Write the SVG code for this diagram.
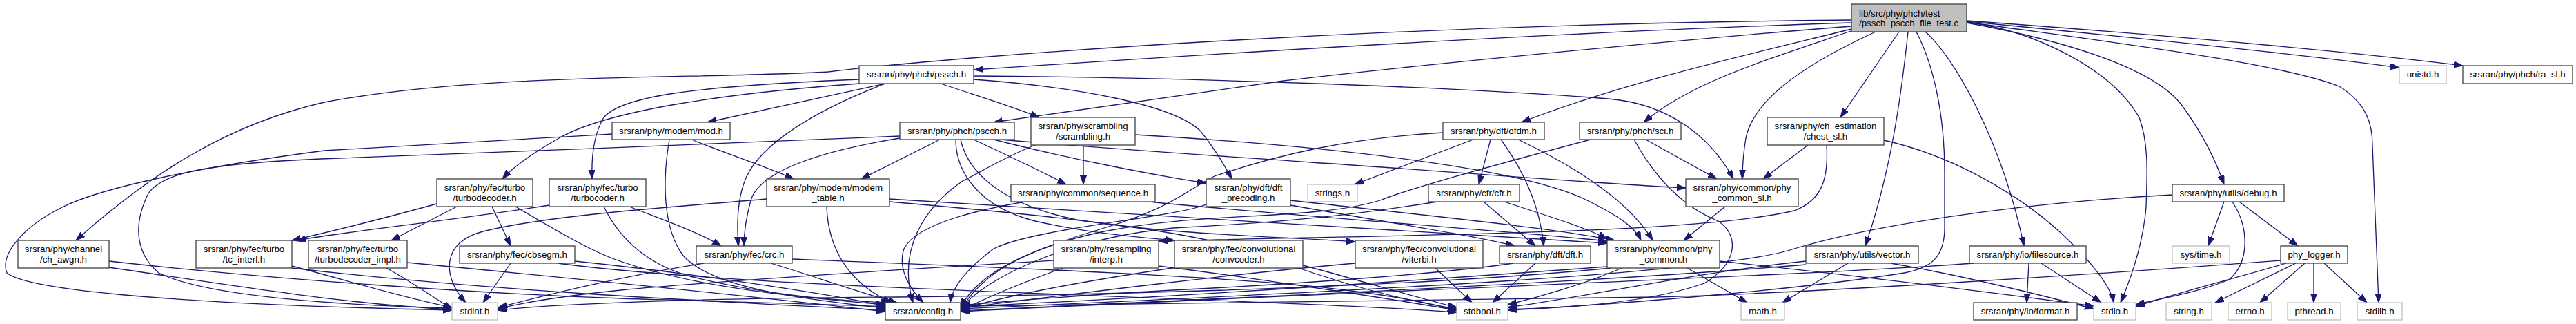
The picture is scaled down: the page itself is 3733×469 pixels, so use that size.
<svg xmlns="http://www.w3.org/2000/svg" width="3733" height="469" viewBox="0 0 3733 469">
<style>
.n rect{fill:#fff;stroke:#404040;stroke-width:1.3}
.x rect{fill:#fff;stroke:#bfbfbf;stroke-width:1.3}
.r rect{fill:#bfbfbf;stroke:#404040;stroke-width:1.3}
text{font-family:"Liberation Sans",Arial,sans-serif;font-size:13.3px;fill:#000;text-anchor:middle}
.r text{text-anchor:start}
#edges path{fill:none;stroke:#191970;stroke-width:1.3;marker-end:url(#ah)}
</style>
<defs>
<marker id="ah" markerUnits="userSpaceOnUse" markerWidth="14" markerHeight="10" refX="13" refY="4.5" orient="auto">
<path d="M0,0 L13,4.5 L0,9 z" fill="#191970" stroke="#191970" stroke-width="1"/>
</marker>
</defs>
<rect width="3733" height="469" fill="#fff"/>
<g id="edges">
<!-- root -->
<path d="M2683,33 C2300,45 1800,75 1412,101"/>
<path d="M2683,29 C2000,35 1400,80 1200,104 C1000,115 700,105 470,148 C330,180 220,250 110,348"/>
<path d="M2683,38 C2400,60 2000,100 1860,117 C1700,140 1550,160 1440,177"/>
<path d="M2683,42 C2550,75 2350,120 2205,177"/>
<path d="M2685,44 C2550,90 2450,120 2382,177"/>
<path d="M2718,46 C2600,100 2540,150 2530,200 C2525,230 2525,245 2525,259"/>
<path d="M2752,46 L2667,170"/>
<path d="M2765,46 C2755,140 2740,250 2703,356"/>
<path d="M2790,46 C2830,80 2900,200 2933,356"/>
<path d="M2777,46 C2800,90 2818,160 2818,250 L2818,330 C2818,370 2800,388 2760,395 C2600,420 2350,440 2186,449"/>
<path d="M2850,32 C2950,45 3060,100 3100,170 C3115,210 3111,260 3110,300 C3105,360 3085,410 3073,438"/>
<path d="M2850,33 C3000,60 3120,100 3160,150 C3190,190 3210,230 3223,267"/>
<path d="M2850,31 C3100,55 3350,80 3477,98"/>
<path d="M2850,30 C3200,55 3450,80 3569,95"/>
<path d="M2850,32 C3050,60 3300,90 3390,125 C3430,150 3438,180 3438,210 L3447,438"/>
<!-- pssch -->
<path d="M1283,121 L1025,177"/>
<path d="M1283,121 C1180,160 1100,210 1080,260 C1068,290 1068,330 1070,356"/>
<path d="M1246,121 C1050,135 880,160 810,200 C775,220 745,240 728,259"/>
<path d="M1245,115 C1000,125 900,140 875,170 C860,195 857,230 858,259"/>
<path d="M1363,121 C1420,140 1470,155 1506,170"/>
<path d="M1411,115 C1550,125 1700,150 1740,190 C1760,215 1775,240 1785,259"/>
<path d="M1411,110 C1700,112 2100,125 2330,143 C2420,150 2480,200 2512,259"/>
<!-- pscch -->
<path d="M1304,200 C1180,220 1100,250 1088,290 C1080,320 1078,340 1078,356"/>
<path d="M1362,202 L1248,259"/>
<path d="M1411,202 C1460,225 1510,248 1545,267"/>
<path d="M1440,202 C1550,230 1680,255 1748,265"/>
<path d="M1450,202 C1600,215 1800,228 1900,235 C2100,248 2300,265 2443,272"/>
<path d="M1385,202 C1385,250 1420,300 1500,320 C1590,340 1670,345 1702,348"/>
<path d="M1392,202 C1405,260 1470,300 1560,318 C1700,340 1850,342 1964,350"/>
<path d="M1304,197 C1100,205 700,222 465,230 C300,237 235,250 215,280 C190,330 200,370 230,395 C300,430 500,442 655,446"/>
<!-- mod -->
<path d="M1002,202 C1060,225 1120,245 1150,259"/>
<path d="M970,202 C960,260 960,330 990,370 C1030,415 1150,432 1283,446"/>
<path d="M887,194 C700,205 500,215 470,218 C300,240 150,270 90,300 C30,330 0,370 10,395 C40,420 250,440 655,449"/>
<!-- modem table -->
<path d="M1198,299 C1200,360 1230,410 1292,438"/>
<path d="M1111,288 C1000,298 800,310 700,335 C640,350 640,400 675,438"/>
<path d="M1289,288 C1600,310 2000,330 2329,352"/>
<path d="M1289,292 C1500,310 1700,330 1800,360 C1900,395 2000,430 2111,447"/>
<!-- crc -->
<path d="M1117,381 C1180,400 1250,425 1300,438"/>
<path d="M1020,381 C900,400 800,425 722,445"/>
<path d="M1148,375 C1400,385 1800,400 1950,420 C2030,430 2080,440 2111,450"/>
<!-- cbsegm -->
<path d="M740,381 L700,438"/>
<path d="M833,378 C1000,395 1200,425 1283,443"/>
<path d="M808,381 C1100,420 1800,430 2111,452"/>
<!-- turbodecoder -->
<path d="M662,299 L567,348"/>
<path d="M713,299 L740,356"/>
<path d="M633,295 C560,315 480,335 423,348"/>
<path d="M747,299 C800,330 850,360 890,375 C1000,415 1150,430 1283,441"/>
<!-- turbocoder -->
<path d="M796,297 C650,320 500,335 430,348"/>
<path d="M912,299 C960,318 1010,335 1045,356"/>
<path d="M875,299 C895,340 930,380 1000,400 C1100,425 1200,435 1290,438"/>
<!-- tc_interl -->
<path d="M423,385 C500,405 580,430 655,445"/>
<path d="M423,388 C700,420 1000,435 1283,449"/>
<!-- turbodecoder_impl -->
<path d="M560,388 C600,410 630,432 655,447"/>
<path d="M590,380 C800,400 1100,430 1283,451"/>
<!-- awgn -->
<path d="M158,387 C350,415 500,440 655,448"/>
<path d="M158,378 C400,405 700,425 900,432 C1050,437 1200,440 1283,444"/>
<!-- scrambling -->
<path d="M1570,210 L1570,267"/>
<path d="M1500,210 C1450,230 1420,250 1395,262 C1340,300 1300,360 1323,438"/>
<path d="M1645,195 C1900,210 2200,240 2300,290 C2350,315 2370,330 2378,348"/>
<!-- sequence -->
<path d="M1485,292 C1440,300 1330,320 1310,360 C1300,390 1320,420 1338,438"/>
<path d="M1665,292 C1900,315 2200,335 2329,349"/>
<!-- dft_precoding -->
<path d="M1870,297 C2000,320 2130,340 2195,356"/>
<path d="M1870,290 C2050,310 2250,330 2340,348"/>
<path d="M1748,296 C1700,315 1500,330 1440,360 C1400,390 1380,415 1377,438"/>
<!-- ofdm -->
<path d="M2135,202 L1963,267"/>
<path d="M2160,202 L2143,267"/>
<path d="M2175,202 C2210,250 2232,300 2237,356"/>
<path d="M2200,202 C2280,240 2360,290 2395,348"/>
<path d="M2091,192 C1950,200 1850,225 1760,255 C1720,275 1700,300 1600,330 C1500,360 1420,390 1392,445"/>
<!-- sci -->
<path d="M2385,202 L2488,259"/>
<path d="M2305,202 C2200,230 2050,270 2000,290 C1900,320 1750,305 1600,335 C1480,360 1420,400 1392,449"/>
<path d="M2368,202 C2400,260 2440,300 2490,320 C2520,340 2520,380 2470,410 C2400,435 2300,445 2185,448"/>
<!-- chest -->
<path d="M2620,210 L2555,259"/>
<path d="M2647,210 C2650,260 2640,290 2600,305 C2450,340 2000,340 1679,349"/>
<path d="M2730,203 C2850,230 2950,300 3000,350 C3040,390 3060,420 3063,438"/>
<!-- phy_common_sl -->
<path d="M2500,299 L2440,348"/>
<!-- cfr -->
<path d="M2150,292 L2225,356"/>
<path d="M2180,292 C2250,315 2300,330 2329,346"/>
<path d="M2083,292 C2000,305 1900,320 1700,330 C1550,345 1430,400 1392,447"/>
<!-- dft -->
<path d="M2225,381 L2163,438"/>
<path d="M2193,381 C2100,395 1900,410 1700,420 C1550,428 1450,437 1392,442"/>
<!-- viterbi -->
<path d="M2080,388 L2133,438"/>
<path d="M1964,381 C1800,395 1600,420 1392,446"/>
<!-- convcoder -->
<path d="M1705,387 C1550,410 1450,430 1392,448"/>
<path d="M1888,384 C1950,400 2050,430 2111,445"/>
<!-- interp -->
<path d="M1540,388 C1480,410 1430,430 1392,450"/>
<path d="M1527,377 C1300,390 1000,410 900,420 C800,430 750,440 722,447"/>
<path d="M1679,385 C1800,400 2000,430 2111,449"/>
<!-- phy_common -->
<path d="M2445,388 L2532,438"/>
<path d="M2492,378 C2700,400 2900,425 3034,443"/>
<path d="M2350,388 C2300,410 2230,430 2185,441"/>
<path d="M2329,386 C2000,410 1700,430 1392,444"/>
<path d="M2335,388 C2000,420 1500,428 1300,430 C1000,432 800,440 722,449"/>
<!-- vector -->
<path d="M2678,381 L2583,438"/>
<path d="M2740,381 C2850,400 2950,425 3034,447"/>
<path d="M2617,378 C2450,395 2300,430 2185,445"/>
<path d="M2617,383 C2300,410 1800,430 1392,450"/>
<!-- filesource -->
<path d="M2940,381 L2937,438"/>
<path d="M2958,381 L3045,438"/>
<path d="M2860,381 C2600,400 2000,420 1392,451"/>
<!-- debug -->
<path d="M3223,292 L3200,356"/>
<path d="M3245,292 L3330,356"/>
<path d="M3235,292 C3260,330 3260,380 3230,405 C3180,425 3130,432 3095,441"/>
<path d="M3148,282 C2900,295 2700,330 2600,360 C2500,395 2000,420 1392,447"/>
<!-- phy_logger -->
<path d="M3340,381 L3275,438"/>
<path d="M3353,381 L3353,438"/>
<path d="M3368,381 L3430,438"/>
<path d="M3327,381 L3210,438"/>
<path d="M3313,381 C3250,400 3150,425 3095,444"/>
<path d="M3305,377 C3000,400 2600,425 2400,430 C2000,436 1700,440 1392,443"/>
</g>
<g id="root" class="r"><rect x="2683" y="6" width="167" height="40"/><text x="2694" y="23.5">lib/src/phy/phch/test</text><text x="2694" y="38">/pssch_pscch_file_test.c</text></g>
<g id="pssch" class="n"><rect x="1245" y="95" width="166" height="26"/><text x="1328" y="111.5">srsran/phy/phch/pssch.h</text></g>
<g id="unistd" class="x"><rect x="3477" y="95" width="68" height="26"/><text x="3511" y="111.5">unistd.h</text></g>
<g id="ra_sl" class="n"><rect x="3569" y="95" width="159" height="26"/><text x="3648.5" y="111.5">srsran/phy/phch/ra_sl.h</text></g>
<g id="mod" class="n"><rect x="887" y="177" width="171" height="25"/><text x="972.5" y="193.5">srsran/phy/modem/mod.h</text></g>
<g id="pscch" class="n"><rect x="1304" y="177" width="166" height="25"/><text x="1387" y="193.5">srsran/phy/phch/pscch.h</text></g>
<g id="scrambling" class="n"><rect x="1494" y="170" width="151" height="40"/><text x="1569.5" y="187">srsran/phy/scrambling</text><text x="1569.5" y="201.5">/scrambling.h</text></g>
<g id="ofdm" class="n"><rect x="2091" y="177" width="147" height="25"/><text x="2164.5" y="193.5">srsran/phy/dft/ofdm.h</text></g>
<g id="sci" class="n"><rect x="2289" y="177" width="147" height="25"/><text x="2362.5" y="193.5">srsran/phy/phch/sci.h</text></g>
<g id="chest_sl" class="n"><rect x="2561" y="170" width="169" height="40"/><text x="2645.5" y="187">srsran/phy/ch_estimation</text><text x="2645.5" y="201.5">/chest_sl.h</text></g>
<g id="turbodecoder" class="n"><rect x="633" y="259" width="139" height="40"/><text x="702.5" y="276">srsran/phy/fec/turbo</text><text x="702.5" y="290.5">/turbodecoder.h</text></g>
<g id="turbocoder" class="n"><rect x="796" y="259" width="140" height="40"/><text x="866" y="276">srsran/phy/fec/turbo</text><text x="866" y="290.5">/turbocoder.h</text></g>
<g id="modem_table" class="n"><rect x="1111" y="259" width="178" height="40"/><text x="1200" y="276">srsran/phy/modem/modem</text><text x="1200" y="290.5">_table.h</text></g>
<g id="sequence" class="n"><rect x="1465" y="267" width="209" height="25"/><text x="1569.5" y="283.5">srsran/phy/common/sequence.h</text></g>
<g id="dft_precoding" class="n"><rect x="1748" y="259" width="122" height="40"/><text x="1809" y="276">srsran/phy/dft/dft</text><text x="1809" y="290.5">_precoding.h</text></g>
<g id="strings" class="x"><rect x="1895" y="267" width="72" height="25"/><text x="1931" y="283.5">strings.h</text></g>
<g id="cfr" class="n"><rect x="2070" y="267" width="132" height="25"/><text x="2136" y="283.5">srsran/phy/cfr/cfr.h</text></g>
<g id="phy_common_sl" class="n"><rect x="2443" y="259" width="163" height="40"/><text x="2524.5" y="276">srsran/phy/common/phy</text><text x="2524.5" y="290.5">_common_sl.h</text></g>
<g id="debug" class="n"><rect x="3148" y="267" width="162" height="25"/><text x="3229" y="283.5">srsran/phy/utils/debug.h</text></g>
<g id="ch_awgn" class="n"><rect x="26" y="348" width="132" height="40"/><text x="92" y="365">srsran/phy/channel</text><text x="92" y="379.5">/ch_awgn.h</text></g>
<g id="tc_interl" class="n"><rect x="284" y="348" width="139" height="40"/><text x="353.5" y="365">srsran/phy/fec/turbo</text><text x="353.5" y="379.5">/tc_interl.h</text></g>
<g id="turbodecoder_impl" class="n"><rect x="447" y="348" width="143" height="40"/><text x="518.5" y="365">srsran/phy/fec/turbo</text><text x="518.5" y="379.5">/turbodecoder_impl.h</text></g>
<g id="cbsegm" class="n"><rect x="666" y="356" width="167" height="25"/><text x="749.5" y="372.5">srsran/phy/fec/cbsegm.h</text></g>
<g id="crc" class="n"><rect x="1009" y="356" width="139" height="25"/><text x="1078.5" y="372.5">srsran/phy/fec/crc.h</text></g>
<g id="interp" class="n"><rect x="1527" y="348" width="152" height="40"/><text x="1603" y="365">srsran/phy/resampling</text><text x="1603" y="379.5">/interp.h</text></g>
<g id="convcoder" class="n"><rect x="1702" y="348" width="186" height="40"/><text x="1795" y="365">srsran/phy/fec/convolutional</text><text x="1795" y="379.5">/convcoder.h</text></g>
<g id="viterbi" class="n"><rect x="1964" y="348" width="185" height="40"/><text x="2056.5" y="365">srsran/phy/fec/convolutional</text><text x="2056.5" y="379.5">/viterbi.h</text></g>
<g id="dft" class="n"><rect x="2173" y="356" width="132" height="25"/><text x="2239" y="372.5">srsran/phy/dft/dft.h</text></g>
<g id="phy_common" class="n"><rect x="2329" y="348" width="163" height="40"/><text x="2410.5" y="365">srsran/phy/common/phy</text><text x="2410.5" y="379.5">_common.h</text></g>
<g id="vector" class="n"><rect x="2617" y="356" width="163" height="25"/><text x="2698.5" y="372.5">srsran/phy/utils/vector.h</text></g>
<g id="filesource" class="n"><rect x="2854" y="356" width="169" height="25"/><text x="2938.5" y="372.5">srsran/phy/io/filesource.h</text></g>
<g id="systime" class="x"><rect x="3148" y="356" width="83" height="25"/><text x="3189.5" y="372.5">sys/time.h</text></g>
<g id="phy_logger" class="n"><rect x="3305" y="356" width="97" height="25"/><text x="3353.5" y="372.5">phy_logger.h</text></g>
<g id="stdint" class="x"><rect x="655" y="438" width="66" height="25"/><text x="688" y="454.5">stdint.h</text></g>
<g id="config" class="n"><rect x="1283" y="438" width="109" height="25"/><text x="1337.5" y="454.5">srsran/config.h</text></g>
<g id="stdbool" class="x"><rect x="2111" y="438" width="74" height="25"/><text x="2148" y="454.5">stdbool.h</text></g>
<g id="math" class="x"><rect x="2523" y="438" width="63" height="25"/><text x="2554.5" y="454.5">math.h</text></g>
<g id="format" class="n"><rect x="2860" y="438" width="150" height="25"/><text x="2935" y="454.5">srsran/phy/io/format.h</text></g>
<g id="stdio" class="x"><rect x="3034" y="438" width="61" height="25"/><text x="3064.5" y="454.5">stdio.h</text></g>
<g id="string" class="x"><rect x="3139" y="438" width="66" height="25"/><text x="3172" y="454.5">string.h</text></g>
<g id="errno" class="x"><rect x="3229" y="438" width="63" height="25"/><text x="3260.5" y="454.5">errno.h</text></g>
<g id="pthread" class="x"><rect x="3315" y="438" width="77" height="25"/><text x="3353.5" y="454.5">pthread.h</text></g>
<g id="stdlib" class="x"><rect x="3416" y="438" width="65" height="25"/><text x="3448.5" y="454.5">stdlib.h</text></g>
</svg>
